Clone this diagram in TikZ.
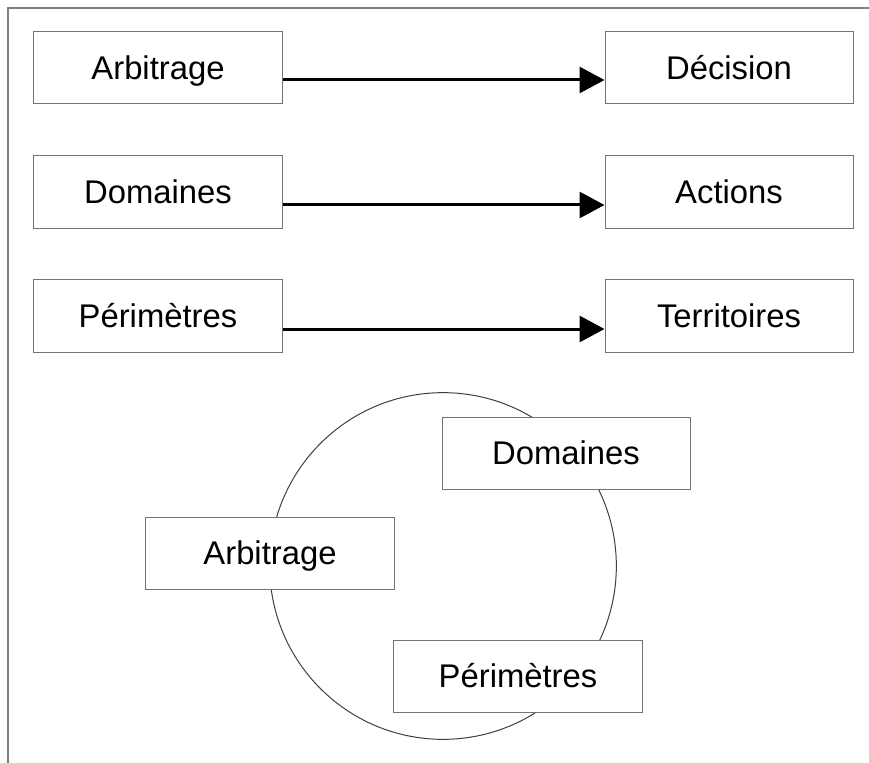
\documentclass[tikz,border=0pt]{standalone}
\usepackage{fontspec}
\setmainfont{Liberation Sans}
\usepackage{tikz}
\usetikzlibrary{arrows.meta}

\begin{document}
\begin{tikzpicture}[x=0.03cm,y=-0.03cm,
    box/.style={draw=black!55,line width=0.03cm,fill=white,minimum width=7.44cm,
      minimum height=2.16cm,inner sep=0pt,text height=20pt,text depth=0pt,
      font=\fontsize{28}{34}\selectfont},
    flow/.style={line width=0.09cm,-{Triangle[length=0.75cm,width=0.78cm]}}]
      \useasboundingbox (0,0) rectangle (869,763);

      % frame
      \draw[black!50,line width=0.07cm] (8,763) -- (8,8) -- (869,8);

      % rows
      \node[box] (arbA) at (158,68) {Arbitrage};
      \node[box] (dec) at (729,68) {Décision};
      \node[box] (domA) at (158,192) {Domaines};
      \node[box] (act) at (729,192) {Actions};
      \node[box] (perA) at (158,316) {Périmètres};
      \node[box] (ter) at (729,316) {Territoires};

      \draw[flow] ([yshift=-0.36cm]arbA.east) -- ([yshift=-0.36cm]dec.west);
      \draw[flow] ([yshift=-0.39cm]domA.east) -- ([yshift=-0.39cm]act.west);
      \draw[flow] ([yshift=-0.39cm]perA.east) -- ([yshift=-0.39cm]ter.west);

      % cycle
      \draw[black!75,line width=0.03cm] (443,566) circle (5.2cm);
      \node[box] (domB) at (566,453) {Domaines};
      \node[box] (arbB) at (270,553) {Arbitrage};
      \node[box] (perB) at (518,676) {Périmètres};
\end{tikzpicture}
\end{document}
